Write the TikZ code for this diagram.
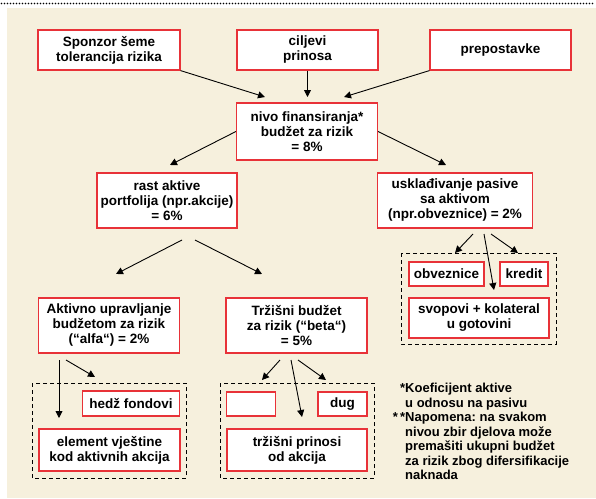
\documentclass[tikz,border=0pt]{standalone}
\usepackage{fontspec}
\setmainfont{Liberation Sans}
\usetikzlibrary{arrows.meta}
\definecolor{bgbeige}{RGB}{246,240,221}
\definecolor{boxred}{RGB}{232,50,56}

\begin{document}
\frenchspacing
\begin{tikzpicture}[x=1pt, y=-1pt,
  every node/.style = {font=\bfseries\fontsize{13.5}{15}\selectfont},
  box/.style = {shape=rectangle, draw=boxred, line width=1.2pt,
    fill=white, align=center, inner sep=0pt},
  arr/.style = {-{Triangle[length=7pt,width=7pt]}, line width=0.9pt},
  group/.style = {draw, dash pattern=on 4pt off 3pt, line width=1pt}]
  \useasboundingbox (0,0) rectangle (596,498);
  \fill[bgbeige] (7,8) rectangle (596,498);
  \draw[line width=1.6pt, line cap=round, dash pattern=on 0pt off 3pt]
    (1.5,3.5) -- (595,3.5);

  % top row
  \node[box, minimum width=142, minimum height=40] (sponzor) at (109,50)
    {Sponzor šeme\\tolerancija rizika};
  \node[box, minimum width=141, minimum height=40] (ciljevi) at (307.5,50)
    {ciljevi\\prinosa};
  \node[box, minimum width=141, minimum height=40] (pretpostavke) at (500.5,50)
    {prepostavke};
  \node[box, minimum width=141, minimum height=57] (nivo) at (307,131.5)
    {nivo finansiranja*\\budžet za rizik\\= 8\%};

  % second level
  \node[box, minimum width=140, minimum height=55] (rast) at (167,200.5)
    {rast aktive\\portfolija (npr.akcije)\\= 6\%};
  \node[box, minimum width=155, minimum height=55] (uskladjivanje) at (455,200.5)
    {usklađivanje pasive\\sa aktivom\\(npr.obveznice) = 2\%};
  \node[box, minimum width=141, minimum height=55] (alfa) at (109,325.5)
    {Aktivno upravljanje\\budžetom za rizik\\(“alfa“) = 2\%};
  \node[box, minimum width=141, minimum height=55] (beta) at (296.5,325.5)
    {Tržišni budžet\\za rizik (“beta“)\\= 5\%};

  % groups
  \draw[group] (32,383) rectangle (186,478);
  \draw[group] (220,383) rectangle (374,478);
  \draw[group] (401,253) rectangle (556,344);

  \node[box, minimum width=97, minimum height=25] (hedz) at (131,403.5)
    {hedž fondovi};
  \node[box, minimum width=141, minimum height=42] (vjestina) at (109.5,450)
    {element vještine\\kod aktivnih akcija};
  \node[box, minimum width=49, minimum height=24] (prazno) at (251,404) {};
  \node[box, minimum width=49, minimum height=24] (dug) at (342.5,404) {dug};
  \node[box, minimum width=140, minimum height=42] (prinosi) at (297,450)
    {tržišni prinosi\\od akcija};
  \node[box, minimum width=75, minimum height=24] (obveznice) at (446.5,274)
    {obveznice};
  \node[box, minimum width=48, minimum height=24] (kredit) at (524,274)
    {kredit};
  \node[box, minimum width=140, minimum height=40] (svopovi) at (479,318)
    {svopovi + kolateral\\u gotovini};

  % arrow ends
  \coordinate (nivoL) at (265,97);
  \coordinate (nivoM) at (307.5,97);
  \coordinate (nivoR) at (344,97);
  \coordinate (rastT) at (170,165);
  \coordinate (usklT) at (446,165);
  \coordinate (rastA) at (182,240);
  \coordinate (rastB) at (195,240);
  \coordinate (alfaT) at (116,274);
  \coordinate (betaT) at (262,274);
  \coordinate (usklA) at (473,234);
  \coordinate (usklB) at (484,234);
  \coordinate (usklC) at (491,234);
  \coordinate (obvT) at (455,253);
  \coordinate (svopT) at (494,290);
  \coordinate (kredT) at (518,253);
  \coordinate (alfaA) at (59,360);
  \coordinate (alfaB) at (66,360);
  \coordinate (vjestT) at (59,418);
  \coordinate (hedzT) at (95,377);
  \coordinate (betaA) at (280,360);
  \coordinate (betaB) at (291,360);
  \coordinate (betaC) at (298,360);
  \coordinate (praznoT) at (262,380);
  \coordinate (prinT) at (302,417);
  \coordinate (dugT) at (326,380);

  \draw[arr] (sponzor.south east) -- (nivoL);
  \draw[arr] (ciljevi.south) -- (nivoM);
  \draw[arr] (pretpostavke.south west) -- (nivoR);
  \draw[arr] (nivo.west) -- (rastT);
  \draw[arr] (nivo.east) -- (usklT);
  \draw[arr] (rastA) -- (alfaT);
  \draw[arr] (rastB) -- (betaT);
  \draw[arr] (usklA) -- (obvT);
  \draw[arr] (usklB) -- (svopT);
  \draw[arr] (usklC) -- (kredT);
  \draw[arr] (alfaA) -- (vjestT);
  \draw[arr] (alfaB) -- (hedzT);
  \draw[arr] (betaA) -- (praznoT);
  \draw[arr] (betaB) -- (prinT);
  \draw[arr] (betaC) -- (dugT);

  % footnotes
  \node[anchor=north west, align=left, inner sep=0pt,
    font=\bfseries\fontsize{13}{14.5}\selectfont] (napomena) at (405,383)
    {\llap{*}Koeficijent aktive\\u odnosu na pasivu\\
     \llap{*\,*}Napomena: na svakom\\nivou zbir djelova može\\
     premašiti ukupni budžet\\za rizik zbog difersifikacije\\naknada};
\end{tikzpicture}
\end{document}
